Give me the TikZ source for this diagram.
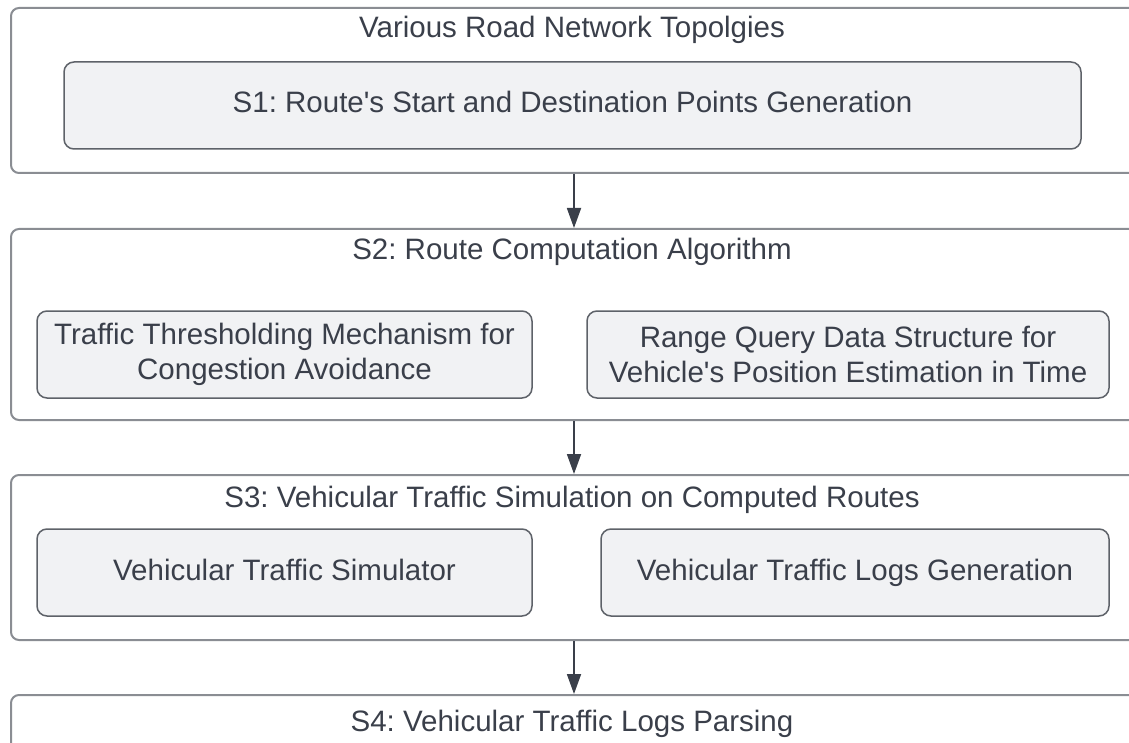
\documentclass[tikz,border=0pt]{standalone}
\usepackage{fontspec}
\setmainfont{Liberation Sans}
\usetikzlibrary{arrows.meta}
\frenchspacing
\definecolor{framegray}{HTML}{8A8D93}
\definecolor{boxfill}{HTML}{F1F2F4}
\definecolor{boxline}{HTML}{5E6269}
\definecolor{inktext}{HTML}{3A3F4A}
\tikzset{
  stage/.style={draw=framegray, line width=2pt, rounded corners=8pt, anchor=north west, minimum width=1126pt, inner sep=0pt},
  subbox/.style={draw=boxline, fill=boxfill, line width=1.5pt, rounded corners=10pt, text=inktext, align=center, font=\fontsize{29.5}{35}\selectfont, inner sep=0pt, minimum height=87pt},
  oneline/.style={text height=26.5pt, text depth=11.5pt},
  head/.style={text=inktext, font=\fontsize{29.5}{35}\selectfont, anchor=base, inner sep=0pt},
  flow/.style={-{Triangle[length=20pt,width=14pt]}, line width=1.8pt, draw=inktext}
}
\begin{document}
\begin{tikzpicture}[x=1pt,y=-1pt]
  \clip (0,0) rectangle (1129,743);
  \node[stage, minimum height=165pt] (st1) at (10,7) {};
  \node[stage, minimum height=191pt] (st2) at (10,228) {};
  \node[stage, minimum height=165pt] (st3) at (10,474) {};
  \node[stage, minimum height=120pt] (st4) at (10,694) {};
  \node[head] (t1) at (572,38) {Various Road Network Topolgies};
  \node[subbox, oneline, minimum width=1017pt] (s1) at (572.5,105.5) {S1: Route\textquotesingle s Start and Destination Points Generation};
  \node[head] (t2) at (572,259) {S2: Route Computation Algorithm};
  \node[subbox, minimum width=495pt] (thr) at (284.5,354.5) {Traffic Thresholding Mechanism for\\Congestion Avoidance};
  \node[subbox, minimum width=522pt] (rq) at (848,354.5) {Range Query Data Structure for\\Vehicle\textquotesingle s Position Estimation in Time};
  \node[head] (t3) at (572,507) {S3: Vehicular Traffic Simulation on Computed Routes};
  \node[subbox, oneline, minimum width=495pt] (sim) at (284.5,572.5) {Vehicular Traffic Simulator};
  \node[subbox, oneline, minimum width=508pt] (logs) at (855,572.5) {Vehicular Traffic Logs Generation};
  \node[head] (t4) at (572,731) {S4: Vehicular Traffic Logs Parsing};
  \draw[flow] (st1.south) -- (st2.north);
  \draw[flow] (st2.south) -- (st3.north);
  \draw[flow] (st3.south) -- (st4.north);
\end{tikzpicture}
\end{document}
